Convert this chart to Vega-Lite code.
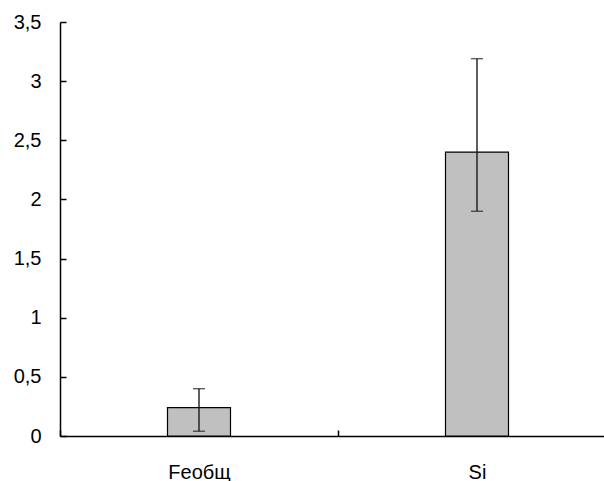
{
  "$schema": "https://vega.github.io/schema/vega-lite/v6.json",
  "autosize": {"type": "none"},
  "width": 544,
  "height": 414,
  "padding": {"left": 60, "top": 22, "right": 0, "bottom": 45},
  "background": "white",
  "data": {
    "values": [
      {"element": "Feобщ", "value": 0.24, "low": 0.04, "high": 0.4},
      {"element": "Si", "value": 2.4, "low": 1.9, "high": 3.19}
    ]
  },
  "encoding": {
    "x": {
      "field": "element",
      "type": "nominal",
      "sort": null,
      "scale": {"range": [0, 556], "paddingInner": 0, "paddingOuter": 0},
      "axis": {
        "title": null,
        "labelAngle": 0,
        "tickBand": "extent",
        "tickSize": -6,
        "labelFont": "Liberation Sans",
        "labelFontSize": 20,
        "labelColor": "black",
        "labelPadding": 32
      }
    }
  },
  "layer": [
    {
      "mark": {"type": "bar", "width": 63, "fill": "#c0c0c0", "stroke": "black", "strokeWidth": 1.2},
      "encoding": {
        "y": {
          "field": "value",
          "type": "quantitative",
          "scale": {"domain": [0, 3.5], "nice": false},
          "axis": {
            "title": null,
            "values": [0, 0.5, 1, 1.5, 2, 2.5, 3, 3.5],
            "labelExpr": "replace(toString(datum.value), '.', ',')",
            "tickSize": -6,
            "labelFont": "Liberation Sans",
            "labelFontSize": 20,
            "labelColor": "black",
            "labelPadding": 25
          }
        }
      }
    },
    {
      "mark": {"type": "rule", "color": "#1a1a1a", "strokeWidth": 1.4},
      "encoding": {
        "y": {"field": "low", "type": "quantitative"},
        "y2": {"field": "high"}
      }
    },
    {
      "mark": {"type": "tick", "color": "#1a1a1a", "size": 12, "thickness": 1.4, "orient": "horizontal"},
      "encoding": {"y": {"field": "low", "type": "quantitative"}}
    },
    {
      "mark": {"type": "tick", "color": "#1a1a1a", "size": 12, "thickness": 1.4, "orient": "horizontal"},
      "encoding": {"y": {"field": "high", "type": "quantitative"}}
    }
  ],
  "config": {
    "view": {"stroke": null},
    "font": "Liberation Sans",
    "axis": {
      "grid": false,
      "domainColor": "black",
      "domainWidth": 1.5,
      "tickColor": "black",
      "tickWidth": 1.5
    }
  }
}
